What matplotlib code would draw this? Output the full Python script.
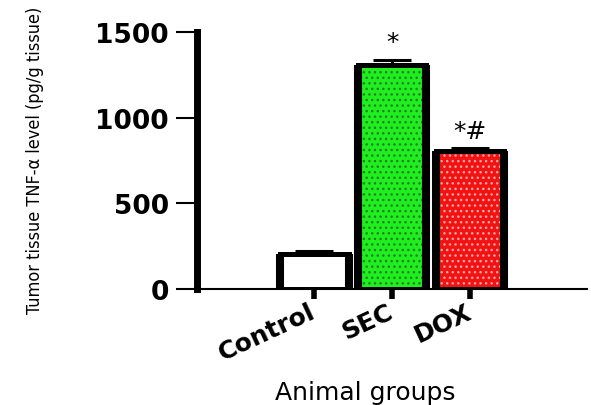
import matplotlib
matplotlib.use("Agg")
import matplotlib.pyplot as plt
from matplotlib import font_manager

# Tumor tissue TNF-alpha levels per animal group (mean, upper SEM)
groups = ["Control", "SEC", "DOX"]
values = [207, 1310, 805]
errors = [15, 30, 18]
fill_colors = ["#ffffff", "#1ef01e", "#f21212"]
dot_colors = ["#ffffff", "#2a7a2a", "#f4a6a6"]
hatches = [None, "...", "..."]
markers = ["", "*", "*#"]
y_ticks = [0, 500, 1000, 1500]

# narrow face for the vertical axis title, when one is available
narrow = font_manager.FontProperties(family="DejaVu Sans", stretch="condensed")
narrow_file = font_manager.findfont(narrow, fallback_to_default=True)
has_narrow = "Condensed" in narrow_file or "Narrow" in narrow_file
ylabel_size = 13 if has_narrow else 11

fig = plt.figure(figsize=(5.91, 4.06), dpi=100)
ax = fig.add_axes([0.334, 0.2857, 0.659, 0.632])

x = list(range(len(groups)))
width = 0.88

# dotted fills
for i, v in enumerate(values):
    ax.bar(i, v, width=width, color=fill_colors[i], hatch=hatches[i],
           edgecolor=dot_colors[i], linewidth=0, zorder=2)
# black outlines
ax.bar(x, values, width=width, facecolor="none", edgecolor="black",
       linewidth=3.6, zorder=3)
# heavier vertical bar sides
for i, v in enumerate(values):
    ax.vlines([i - width / 2, i + width / 2], 0, v, colors="black",
              linewidth=5.8, zorder=3)

# upper error bars
ax.errorbar(x, values, yerr=[[0] * len(values), errors], fmt="none",
            ecolor="black", elinewidth=2.2, capsize=14, capthick=2.2,
            zorder=4)

# significance marks
for i, (v, e, m) in enumerate(zip(values, errors, markers)):
    if m:
        ax.annotate(m, xy=(i, v + e), xytext=(0, 4), textcoords="offset points",
                    ha="center", va="bottom", fontsize=18, zorder=5,
                    annotation_clip=False)

ax.set_xlim(-1.5, 3.5)
ax.set_ylim(0, 1500)
ax.set_yticks(y_ticks)
ax.set_yticklabels([str(t) for t in y_ticks], fontsize=19, fontweight="bold")
ax.set_xticks(x)
ax.set_xticklabels(groups, fontsize=18, fontweight="bold", rotation=25,
                   ha="right", va="center", rotation_mode="anchor")

for s in ("top", "right"):
    ax.spines[s].set_visible(False)
ax.spines["left"].set_linewidth(5)
ax.spines["bottom"].set_linewidth(1.5)
ax.tick_params(axis="y", length=15, width=1.5, pad=5.5)
ax.tick_params(axis="x", length=7, width=4, pad=8)

ax.set_ylabel("Tumor tissue TNF-α level (pg/g tissue)", fontsize=ylabel_size,
              family="DejaVu Sans", fontstretch="condensed", va="center")
ax.yaxis.set_label_coords(-0.417, 0.507)
ax.set_xlabel("Animal groups", fontsize=18)
ax.xaxis.set_label_coords(0.43, -0.355)

fig.savefig("out.png", dpi=100)
